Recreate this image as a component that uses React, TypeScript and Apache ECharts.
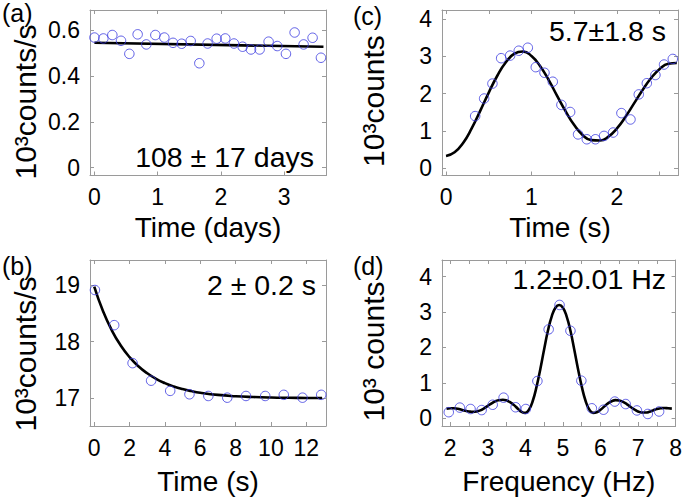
import { useEffect, useRef } from 'react';
import * as echarts from 'echarts';

// Panel (a): counts vs time (days)
const aTime = [0.0, 0.141, 0.283, 0.42, 0.552, 0.683, 0.82, 0.963, 1.105, 1.242, 1.379, 1.521, 1.658, 1.789, 1.932, 2.068, 2.205, 2.342, 2.474, 2.611, 2.753, 2.89, 3.027, 3.164, 3.306, 3.448, 3.58];
const aCounts = [0.567, 0.563, 0.578, 0.553, 0.496, 0.581, 0.537, 0.578, 0.567, 0.544, 0.54, 0.552, 0.455, 0.541, 0.562, 0.563, 0.541, 0.527, 0.515, 0.515, 0.549, 0.53, 0.496, 0.589, 0.537, 0.566, 0.479];
const aFitTime = [0, 3.62];
const aFitCounts = [0.544, 0.527];

// Panel (b): counts vs time (s)
const bTime = [0.04, 1.13, 2.17, 3.22, 4.3, 5.39, 6.46, 7.53, 8.59, 9.68, 10.73, 11.79, 12.85];
const bCounts = [18.91, 18.29, 17.62, 17.31, 17.13, 17.07, 17.04, 17.01, 17.04, 17.04, 17.06, 17.01, 17.06];
const bFitTime = [0, 0.5, 1, 1.5, 2, 2.5, 3, 3.5, 4, 4.5, 5, 5.5, 6, 7, 8, 9, 10, 11, 12, 12.9];
const bFitCounts = [18.97, 18.534, 18.195, 17.931, 17.725, 17.564, 17.44, 17.342, 17.267, 17.208, 17.162, 17.126, 17.098, 17.059, 17.036, 17.022, 17.013, 17.008, 17.005, 17.003];

// Panel (c): counts vs time (s), oscillation
const cTime = [0.341, 0.446, 0.543, 0.645, 0.75, 0.851, 0.957, 1.05, 1.152, 1.249, 1.35, 1.452, 1.545, 1.647, 1.748, 1.849, 1.955, 2.052, 2.158, 2.255, 2.349, 2.45, 2.551, 2.653];
const cCounts = [1.4, 1.87, 2.27, 2.95, 3.02, 3.15, 3.23, 2.71, 2.56, 2.32, 1.7, 1.51, 0.91, 0.78, 0.78, 0.87, 0.96, 1.48, 1.31, 1.98, 2.28, 2.5, 2.78, 2.93];
const cFitTime = [0, 0.1, 0.2, 0.3, 0.4, 0.5, 0.6, 0.7, 0.8, 0.9, 1.0, 1.1, 1.2, 1.3, 1.4, 1.5, 1.6, 1.7, 1.8, 1.9, 2.0, 2.1, 2.2, 2.3, 2.4, 2.5, 2.6, 2.7];
const cFitCounts = [0.33, 0.43, 0.68, 1.07, 1.54, 2.03, 2.48, 2.84, 3.07, 3.13, 3.01, 2.74, 2.37, 1.94, 1.525, 1.16, 0.89, 0.756, 0.747, 0.85, 1.07, 1.38, 1.74, 2.1, 2.42, 2.66, 2.8, 2.82];

// Panel (d): counts vs frequency (Hz)
const dFreq = [1.96, 2.255, 2.54, 2.835, 3.13, 3.42, 3.74, 4.01, 4.32, 4.62, 4.91, 5.2, 5.49, 5.77, 6.08, 6.38, 6.67, 6.97, 7.26, 7.56];
const dCounts = [0.17, 0.3, 0.26, 0.23, 0.38, 0.58, 0.31, 0.26, 1.05, 2.51, 3.2, 2.47, 1.06, 0.28, 0.24, 0.47, 0.4, 0.22, 0.12, 0.19];
const dFitFreq = [1.9, 2.0, 2.1, 2.2, 2.3, 2.4, 2.5, 2.6, 2.7, 2.8, 2.9, 3.0, 3.1, 3.2, 3.3, 3.4, 3.5, 3.6, 3.7, 3.8, 3.9, 4.0, 4.1, 4.2, 4.3, 4.4, 4.5, 4.6, 4.7, 4.8, 4.9, 5.0, 5.1, 5.2, 5.3, 5.4, 5.5, 5.6, 5.7, 5.8, 5.9, 6.0, 6.1, 6.2, 6.3, 6.4, 6.5, 6.6, 6.7, 6.8, 6.9, 7.0, 7.1, 7.2, 7.3, 7.4, 7.5, 7.6, 7.7, 7.8, 7.9];
const dFitCounts = [0.27, 0.28, 0.28, 0.27, 0.24, 0.21, 0.19, 0.18, 0.19, 0.22, 0.28, 0.35, 0.42, 0.48, 0.51, 0.52, 0.5, 0.45, 0.37, 0.27, 0.18, 0.15, 0.25, 0.5, 0.9, 1.4, 1.95, 2.47, 2.87, 3.12, 3.2, 3.12, 2.87, 2.47, 1.95, 1.4, 0.9, 0.5, 0.25, 0.15, 0.17, 0.24, 0.33, 0.42, 0.48, 0.51, 0.5, 0.46, 0.4, 0.32, 0.25, 0.19, 0.16, 0.16, 0.18, 0.22, 0.26, 0.28, 0.29, 0.28, 0.27];

// Texts
const panelLabels = ['(a)', '(b)', '(c)', '(d)'];
const fitLabels = ['108 ± 17 days', '2 ± 0.2 s', '5.7±1.8 s', '1.2±0.01 Hz'];
const xTitles = ['Time (days)', 'Time (s)', 'Time (s)', 'Frequency (Hz)'];
const yTitles = ['10³counts/s', '10³counts/s', '10³counts', '10³ counts'];

const FONT = 'Liberation Sans, Arial, Helvetica, sans-serif';
const BOX = '#9a9a9a';
const BLUE = '#3a3ae0';
const TICK_SIZE = 23;
const XTITLE_SIZE = 28;
const YTITLE_SIZE = 30;
const NOTE_SIZE = 28.5;

function zip(xs: number[], ys: number[]) {
  return xs.map((x, i) => [x, ys[i]]);
}

function labelFmt(step: number) {
  return (v: number) => {
    const k = v / step;
    if (Math.abs(k - Math.round(k)) > 1e-6) return '';
    return String(+v.toFixed(2));
  };
}

type PanelCfg = {
  grid: { left: number; top: number; width: number; height: number };
  x: { min: number; max: number; tick: number; label: number; title: string; nameGap: number };
  y: { min: number; max: number; tick: number; label: number };
  pts: number[][];
  fit: number[][];
};

function buildPanel(i: number, cfg: PanelCfg) {
  const grid = { ...cfg.grid, containLabel: false, show: false };
  const tickStyle = { show: true, inside: true, length: 4, lineStyle: { color: BOX, width: 1 } };
  const lineStyle = { show: true, onZero: false, lineStyle: { color: BOX, width: 1 } };
  const xBase = {
    type: 'value', gridIndex: i, min: cfg.x.min, max: cfg.x.max,
    minInterval: cfg.x.tick, maxInterval: cfg.x.tick, splitLine: { show: false },
    axisLine: lineStyle, axisTick: tickStyle,
  };
  const yBase = {
    type: 'value', gridIndex: i, min: cfg.y.min, max: cfg.y.max,
    minInterval: cfg.y.tick, maxInterval: cfg.y.tick, splitLine: { show: false },
    axisLine: lineStyle, axisTick: tickStyle,
  };
  const xAxes = [
    {
      ...xBase, position: 'bottom',
      axisLabel: { show: true, formatter: labelFmt(cfg.x.label), color: '#000', fontFamily: FONT, fontSize: TICK_SIZE, margin: 10, showMinLabel: true, showMaxLabel: true, hideOverlap: false },
      name: cfg.x.title, nameLocation: 'middle', nameGap: cfg.x.nameGap,
      nameTextStyle: { color: '#000', fontFamily: FONT, fontSize: XTITLE_SIZE },
    },
    { ...xBase, position: 'top', axisLabel: { show: false } },
  ];
  const yAxes = [
    {
      ...yBase, position: 'left',
      axisLabel: { show: true, formatter: labelFmt(cfg.y.label), color: '#000', fontFamily: FONT, fontSize: TICK_SIZE, margin: 10, hideOverlap: false },
    },
    { ...yBase, position: 'right', axisLabel: { show: false } },
  ];
  const series = [
    {
      type: 'line', xAxisIndex: 2 * i, yAxisIndex: 2 * i, data: cfg.fit,
      smooth: true, showSymbol: false, symbol: 'none',
      lineStyle: { color: '#000', width: 2.6 }, z: 2, silent: true,
    },
    {
      type: 'scatter', xAxisIndex: 2 * i, yAxisIndex: 2 * i, data: cfg.pts,
      symbol: 'circle', symbolSize: 9.5,
      itemStyle: { color: 'rgba(0,0,0,0)', borderColor: BLUE, borderWidth: 1 }, z: 3, silent: true,
    },
  ];
  return { grid, xAxes, yAxes, series };
}

export default function App() {
  const ref = useRef<HTMLDivElement>(null);
  useEffect(() => {
    if (!ref.current) return;
    const chart = echarts.init(ref.current, undefined, { renderer: 'svg' });
    const panels: PanelCfg[] = [
      {
        grid: { left: 90, top: 10, width: 236, height: 165.5 },
        x: { min: -0.07, max: 3.66, tick: 1, label: 1, title: xTitles[0], nameGap: 38 },
        y: { min: -0.034, max: 0.687, tick: 0.2, label: 0.2 },
        pts: zip(aTime, aCounts), fit: zip(aFitTime, aFitCounts),
      },
      {
        grid: { left: 90, top: 260, width: 236, height: 166 },
        x: { min: -0.24, max: 13.12, tick: 2, label: 2, title: xTitles[1], nameGap: 41 },
        y: { min: 16.51, max: 19.44, tick: 1, label: 1 },
        pts: zip(bTime, bCounts), fit: zip(bFitTime, bFitCounts),
      },
      {
        grid: { left: 442, top: 10, width: 236, height: 165.5 },
        x: { min: -0.047, max: 2.714, tick: 0.5, label: 1, title: xTitles[2], nameGap: 38 },
        y: { min: -0.19, max: 4.24, tick: 1, label: 1 },
        pts: zip(cTime, cCounts), fit: zip(cFitTime, cFitCounts),
      },
      {
        grid: { left: 442, top: 260, width: 236, height: 166 },
        x: { min: 1.78, max: 8, tick: 0.5, label: 1, title: xTitles[3], nameGap: 41 },
        y: { min: -0.22, max: 4.47, tick: 1, label: 1 },
        pts: zip(dFreq, dCounts), fit: zip(dFitFreq, dFitCounts),
      },
    ];
    const built = panels.map((p, i) => buildPanel(i, p));
    const textStyle = (size: number) => ({ fill: '#000', fontFamily: FONT, fontSize: size });
    const yTitle = (text: string, x: number, y: number) => ({
      type: 'text', x, y, rotation: Math.PI / 2,
      style: { text, align: 'center', verticalAlign: 'middle', ...textStyle(YTITLE_SIZE) },
    });
    const graphic = [
      { type: 'text', left: 2, top: 0, style: { text: panelLabels[0], ...textStyle(25) } },
      { type: 'text', left: 2, top: 253, style: { text: panelLabels[1], ...textStyle(25) } },
      { type: 'text', left: 353, top: 3, style: { text: panelLabels[2], ...textStyle(25) } },
      { type: 'text', left: 353, top: 253, style: { text: panelLabels[3], ...textStyle(25) } },
      yTitle(yTitles[0], 25, 102),
      yTitle(yTitles[1], 25, 354),
      yTitle(yTitles[2], 373, 101),
      yTitle(yTitles[3], 373, 351.5),
      { type: 'text', x: 314, y: 157, style: { text: fitLabels[0], align: 'right', verticalAlign: 'middle', ...textStyle(NOTE_SIZE) } },
      { type: 'text', x: 316, y: 285, style: { text: fitLabels[1], align: 'right', verticalAlign: 'middle', ...textStyle(NOTE_SIZE) } },
      { type: 'text', x: 666, y: 31, style: { text: fitLabels[2], align: 'right', verticalAlign: 'middle', ...textStyle(NOTE_SIZE) } },
      { type: 'text', x: 666, y: 278.5, style: { text: fitLabels[3], align: 'right', verticalAlign: 'middle', ...textStyle(NOTE_SIZE) } },
    ];
    chart.setOption({
      animation: false,
      backgroundColor: '#fff',
      grid: built.map((b) => b.grid),
      xAxis: built.flatMap((b) => b.xAxes),
      yAxis: built.flatMap((b) => b.yAxes),
      series: built.flatMap((b) => b.series),
      graphic,
    });
    return () => chart.dispose();
  }, []);
  return (
    <div
      ref={ref}
      style={{ position: 'absolute', left: 0, top: 0, width: 685, height: 497 }}
    />
  );
}
